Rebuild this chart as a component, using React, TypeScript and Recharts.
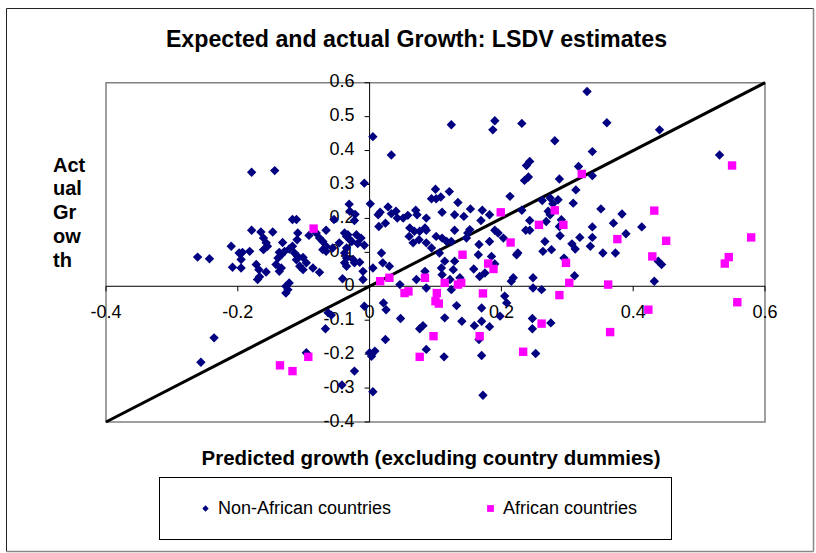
import React from 'react';
import {
  ScatterChart,
  Scatter,
  XAxis,
  YAxis,
  ReferenceLine,
  ReferenceArea,
  ReferenceDot,
  Legend,
} from 'recharts';

// ---------------- data ----------------
const nonAfricanPoints: [number, number][] = [
  [-0.261, 0.086], [-0.243, 0.081], [-0.21, 0.118], [-0.208, 0.056], [-0.198, 0.098],
  [-0.193, 0.1], [-0.182, 0.103], [-0.195, 0.079], [-0.195, 0.054], [-0.179, 0.336],
  [-0.144, 0.341], [-0.179, 0.165], [-0.165, 0.16], [-0.147, 0.16], [-0.161, 0.142],
  [-0.157, 0.128], [-0.155, 0.118], [-0.161, 0.108], [-0.172, 0.064], [-0.168, 0.049],
  [-0.17, 0.02], [-0.167, 0.028], [-0.157, 0.042], [-0.132, 0.129], [-0.137, 0.1],
  [-0.139, 0.083], [-0.134, 0.093], [-0.129, 0.103], [-0.142, 0.064], [-0.134, 0.054],
  [-0.137, 0.044], [-0.122, 0.11], [-0.117, 0.118], [-0.117, 0.197], [-0.111, 0.197],
  [-0.109, 0.157], [-0.11, 0.137], [-0.114, 0.098], [-0.109, 0.088], [-0.111, 0.078],
  [-0.101, 0.085], [-0.106, 0.059], [-0.101, 0.049], [-0.096, 0.069], [-0.127, 0.0],
  [-0.124, -0.01], [-0.127, -0.02], [-0.122, 0.01], [-0.092, 0.15], [-0.081, 0.157],
  [-0.076, 0.142], [-0.071, 0.132], [-0.066, 0.118], [-0.071, 0.108], [-0.066, 0.103],
  [-0.086, 0.054], [-0.076, 0.041], [-0.066, 0.165], [-0.056, 0.113], [-0.054, 0.197],
  [-0.046, 0.128], [-0.038, 0.157], [-0.033, 0.152], [-0.035, 0.147], [-0.03, 0.137],
  [-0.027, 0.132], [-0.035, 0.113], [-0.038, 0.098], [-0.035, 0.083], [-0.038, 0.069],
  [-0.035, 0.059], [-0.041, 0.022], [-0.031, 0.242], [-0.03, 0.221], [-0.022, 0.212],
  [-0.023, 0.194], [-0.025, 0.079], [-0.023, 0.069], [-0.015, 0.071], [-0.01, 0.044],
  [-0.01, 0.02], [-0.02, 0.152], [-0.013, 0.142], [-0.018, 0.126], [-0.008, 0.121],
  [-0.008, 0.304], [0.001, 0.243], [-0.008, -0.059], [-0.063, -0.078], [-0.058, -0.085],
  [-0.067, -0.125], [-0.096, -0.196], [-0.236, -0.152], [-0.256, -0.224], [-0.023, -0.25],
  [-0.042, -0.291], [0.0, -0.196], [0.003, -0.206], [0.008, -0.191], [0.005, -0.311],
  [0.005, 0.441], [0.033, 0.387], [0.124, 0.476], [0.19, 0.488], [0.187, 0.461],
  [0.231, 0.48], [0.281, 0.429], [0.243, 0.368], [0.238, 0.356], [0.241, 0.322],
  [0.235, 0.312], [0.288, 0.316], [0.1, 0.286], [0.094, 0.258], [0.101, 0.258],
  [0.108, 0.263], [0.121, 0.279], [0.134, 0.247], [0.213, 0.265], [0.262, 0.253],
  [0.274, 0.26], [0.278, 0.243], [0.286, 0.255], [0.013, 0.211], [0.016, 0.218],
  [0.028, 0.234], [0.033, 0.214], [0.04, 0.221], [0.042, 0.201], [0.051, 0.201],
  [0.058, 0.209], [0.07, 0.224], [0.072, 0.211], [0.086, 0.201], [0.014, 0.176],
  [0.024, 0.186], [0.11, 0.218], [0.129, 0.211], [0.143, 0.206], [0.153, 0.228],
  [0.171, 0.224], [0.182, 0.211], [0.169, 0.194], [0.231, 0.224], [0.243, 0.194],
  [0.271, 0.221], [0.274, 0.211], [0.268, 0.191], [0.291, 0.196], [0.288, 0.176],
  [0.061, 0.172], [0.068, 0.162], [0.076, 0.162], [0.084, 0.172], [0.086, 0.165],
  [0.129, 0.165], [0.152, 0.167], [0.149, 0.157], [0.19, 0.165], [0.195, 0.157],
  [0.237, 0.165], [0.243, 0.165], [0.06, 0.147], [0.066, 0.128], [0.075, 0.137],
  [0.086, 0.128], [0.101, 0.147], [0.11, 0.142], [0.117, 0.132], [0.124, 0.132],
  [0.147, 0.142], [0.166, 0.123], [0.182, 0.132], [0.203, 0.142], [0.266, 0.132],
  [0.263, 0.103], [0.276, 0.108], [0.289, 0.149], [0.018, 0.098], [0.02, 0.069],
  [0.03, 0.059], [0.005, 0.054], [0.094, 0.113], [0.106, 0.098], [0.109, 0.054],
  [0.114, 0.074], [0.129, 0.074], [0.127, 0.049], [0.11, 0.034], [0.084, 0.044],
  [0.046, 0.005], [0.086, -0.005], [0.071, 0.02], [0.137, 0.025], [0.122, 0.02],
  [0.124, -0.01], [0.021, -0.049], [0.025, -0.069], [0.047, -0.095], [0.024, -0.157],
  [0.132, -0.057], [0.114, -0.093], [0.076, -0.125], [0.081, -0.116], [0.086, -0.186],
  [0.113, -0.208], [0.14, -0.103], [0.159, -0.116], [0.17, -0.064], [0.17, -0.103],
  [0.166, -0.157], [0.17, -0.204], [0.182, -0.119], [0.172, -0.321], [0.158, 0.051],
  [0.167, 0.029], [0.175, 0.039], [0.165, 0.093], [0.185, 0.088], [0.19, 0.066],
  [0.205, -0.029], [0.208, -0.049], [0.198, -0.088], [0.215, 0.015], [0.218, 0.025],
  [0.223, 0.093], [0.225, 0.098], [0.248, 0.025], [0.248, -0.005], [0.261, -0.01],
  [0.247, -0.095], [0.247, -0.125], [0.252, -0.198], [0.275, -0.108], [0.338, 0.397],
  [0.317, 0.353], [0.338, 0.326], [0.313, 0.284], [0.309, 0.245], [0.351, 0.228],
  [0.383, 0.213], [0.37, 0.186], [0.413, 0.175], [0.338, 0.175], [0.389, 0.155],
  [0.319, 0.144], [0.338, 0.144], [0.307, 0.125], [0.312, 0.11], [0.335, 0.118],
  [0.354, 0.098], [0.373, 0.098], [0.295, 0.083], [0.438, 0.074], [0.443, 0.064],
  [0.311, 0.031], [0.432, 0.015], [0.33, 0.574], [0.36, 0.482], [0.44, 0.461],
  [0.531, 0.387],
];

const africanPoints: [number, number][] = [
  [-0.085, 0.17], [-0.136, -0.233], [-0.117, -0.25], [-0.093, -0.208], [0.016, 0.015],
  [0.03, 0.025], [0.053, -0.02], [0.059, -0.015], [0.084, 0.025], [0.102, -0.02],
  [0.1, -0.044], [0.105, -0.051], [0.114, 0.01], [0.134, 0.005], [0.139, 0.01],
  [0.141, 0.093], [0.18, 0.067], [0.188, 0.051], [0.199, 0.218], [0.214, 0.129],
  [0.172, -0.021], [0.097, -0.147], [0.076, -0.208], [0.167, -0.147], [0.233, -0.193],
  [0.261, -0.11], [0.288, -0.026], [0.257, 0.181], [0.281, 0.224], [0.294, 0.181],
  [0.298, 0.069], [0.303, 0.01], [0.322, 0.331], [0.432, 0.223], [0.376, 0.139],
  [0.45, 0.134], [0.429, 0.088], [0.362, 0.005], [0.55, 0.356], [0.579, 0.144],
  [0.545, 0.086], [0.539, 0.067], [0.423, -0.069], [0.558, -0.047], [0.365, -0.135],
];

const xDomain: [number, number] = [-0.4, 0.6];
const yDomain: [number, number] = [-0.4, 0.6];
const xTicks = [-0.4, -0.2, 0, 0.2, 0.4, 0.6];
const xTickLabels = ['-0.4', '-0.2', '0', '0.2', '0.4', '0.6'];
const yTicks = [-0.4, -0.3, -0.2, -0.1, 0, 0.1, 0.2, 0.3, 0.4, 0.5, 0.6];
const yTickLabels = ['-0.4', '-0.3', '-0.2', '-0.1', '0', '0.1', '0.2', '0.3', '0.4', '0.5', '0.6'];
const diagonalStart = { x: -0.4, y: -0.4 };
const diagonalEnd = { x: 0.6, y: 0.6 };

const chartTitle = 'Expected and actual Growth: LSDV estimates';
const xTitle = 'Predicted growth (excluding country dummies)';
const yTitleLines = ['Act', 'ual', 'Gr', 'ow', 'th'];
const seriesNames = ['Non-African countries', 'African countries'];

const nonAfricanData = nonAfricanPoints.map(([x, y]) => ({ x, y }));
const africanData = africanPoints.map(([x, y]) => ({ x, y }));

// ---------------- styles ----------------
const FONT = '"Liberation Sans", Arial, Helvetica, sans-serif';
const NAVY = '#000080';
const MAGENTA = '#FF00FF';
const legendItemLeft = [41, 326];

const DiamondShape = (p: any) => {
  const { cx, cy } = p;
  const r = 4.7;
  return (
    <polygon
      points={`${cx},${cy - r} ${cx + r},${cy} ${cx},${cy + r} ${cx - r},${cy}`}
      fill={NAVY}
    />
  );
};

const SquareShape = (p: any) => {
  const { cx, cy } = p;
  const h = 4.2;
  return <rect x={cx - h} y={cy - h} width={2 * h} height={2 * h} fill={MAGENTA} />;
};

const renderLegend = (props: any) => {
  const payload: any[] = props.payload || [];
  return (
    <div style={{ position: 'relative', width: '100%', height: '100%' }}>
      {seriesNames.map((name, i) => {
        const entry = payload.find((e: any) => e.value === name) || { value: name };
        const color = i === 0 ? NAVY : MAGENTA;
        return (
          <div
            key={name}
            style={{
              position: 'absolute',
              left: legendItemLeft[i],
              top: 19,
              height: 22,
              display: 'flex',
              alignItems: 'center',
              fontFamily: FONT,
              fontSize: 18,
              color: '#000',
              whiteSpace: 'nowrap',
            }}
          >
            <svg width={9} height={9} style={{ display: 'block' }}>
              {i === 0 ? (
                <polygon points="4.5,1.3 7.7,4.5 4.5,7.7 1.3,4.5" fill={color} />
              ) : (
                <rect x={1.1} y={1.1} width={6.8} height={6.8} fill={color} />
              )}
            </svg>
            <span style={{ marginLeft: 8 }}>{entry.value}</span>
          </div>
        );
      })}
    </div>
  );
};

export default function App() {
  return (
    <div style={{ position: 'absolute', left: 0, top: 0, width: 816, height: 553, background: '#fff' }}>
      <ScatterChart
        width={816}
        height={553}
        margin={{ top: 82.7, right: 51, bottom: 131, left: 106 }}
      >
        <XAxis type="number" dataKey="x" domain={xDomain} hide allowDataOverflow />
        <YAxis type="number" dataKey="y" domain={yDomain} hide allowDataOverflow />
        <ReferenceArea
          x1={xDomain[0]}
          x2={xDomain[1]}
          y1={yDomain[0]}
          y2={yDomain[1]}
          fill="none"
          fillOpacity={0}
          stroke="#808080"
          strokeWidth={1.5}
          ifOverflow="visible"
        />
        <ReferenceLine y={0} stroke="#000" strokeWidth={1} ifOverflow="visible" />
        <ReferenceLine x={0} stroke="#000" strokeWidth={1} ifOverflow="visible" />
        {xTicks.map((t, i) => (
          <ReferenceDot
            key={'xt' + i}
            x={t}
            y={0}
            r={0}
            ifOverflow="visible"
            shape={(p: any) => (
              <g>
                <line x1={p.cx} y1={p.cy} x2={p.cx} y2={p.cy + 5} stroke="#000" strokeWidth={1} />
                <text
                  x={p.cx}
                  y={p.cy + 32}
                  textAnchor="middle"
                  fontFamily={FONT}
                  fontSize={18}
                  fill="#000"
                >
                  {xTickLabels[i]}
                </text>
              </g>
            )}
          />
        ))}
        {yTicks.map((t, i) => (
          <ReferenceDot
            key={'yt' + i}
            x={0}
            y={t}
            r={0}
            ifOverflow="visible"
            shape={(p: any) => (
              <g>
                <line x1={p.cx - 5} y1={p.cy} x2={p.cx} y2={p.cy} stroke="#000" strokeWidth={1} />
                <text
                  x={p.cx - 15}
                  y={p.cy + 4.5}
                  textAnchor="end"
                  fontFamily={FONT}
                  fontSize={18}
                  fill="#000"
                >
                  {yTickLabels[i]}
                </text>
              </g>
            )}
          />
        ))}
        <Scatter
          name={seriesNames[0]}
          data={nonAfricanData}
          fill={NAVY}
          shape={DiamondShape}
          legendType="diamond"
          isAnimationActive={false}
        />
        <Scatter
          name={seriesNames[1]}
          data={africanData}
          fill={MAGENTA}
          shape={SquareShape}
          legendType="square"
          isAnimationActive={false}
        />
        <ReferenceLine
          segment={[diagonalStart, diagonalEnd]}
          stroke="#000"
          strokeWidth={3}
          ifOverflow="visible"
        />
        <Legend
          verticalAlign="middle"
          align="center"
          layout="horizontal"
          content={renderLegend}
          wrapperStyle={{
            position: 'absolute',
            left: 159,
            top: 477,
            width: 513,
            height: 63,
            border: '1px solid #000',
            boxSizing: 'border-box',
            background: '#fff',
            margin: 0,
            padding: 0,
          }}
        />
      </ScatterChart>
      <svg
        width={816}
        height={553}
        style={{ position: 'absolute', left: 0, top: 0, pointerEvents: 'none' }}
      >
        <line x1={6.5} y1={8.5} x2={813.5} y2={8.5} stroke="#222" strokeWidth={1} />
        <line x1={6.5} y1={8.5} x2={6.5} y2={551.5} stroke="#222" strokeWidth={1} />
        <line x1={813.5} y1={8.5} x2={813.5} y2={551.5} stroke="#888" strokeWidth={1.5} />
        <line x1={6.5} y1={551.5} x2={813.5} y2={551.5} stroke="#888" strokeWidth={1.5} />
        <text
          x={416.5}
          y={46.5}
          textAnchor="middle"
          fontFamily={FONT}
          fontWeight="bold"
          fontSize={23.2}
          fill="#000"
        >
          {chartTitle}
        </text>
        <text
          x={431}
          y={465}
          textAnchor="middle"
          fontFamily={FONT}
          fontWeight="bold"
          fontSize={20.5}
          fill="#000"
        >
          {xTitle}
        </text>
        {yTitleLines.map((s, i) => (
          <text
            key={i}
            x={53}
            y={171.7 + i * 23.7}
            fontFamily={FONT}
            fontWeight="bold"
            fontSize={20}
            fill="#000"
          >
            {s}
          </text>
        ))}
      </svg>
    </div>
  );
}
